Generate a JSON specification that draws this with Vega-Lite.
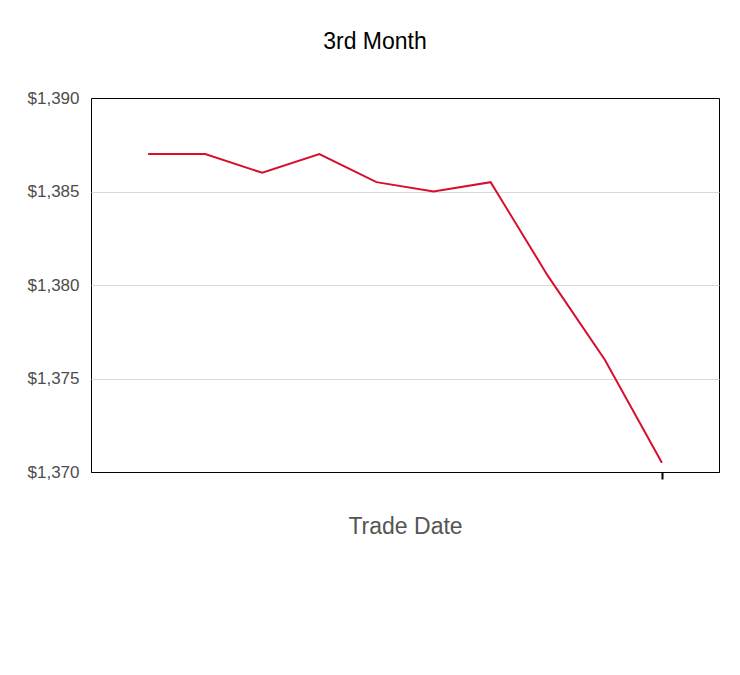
{
  "$schema": "https://vega.github.io/schema/vega-lite/v6.json",
  "autosize": "none",
  "width": 628,
  "height": 374,
  "padding": {"left": 91, "top": 98, "right": 21, "bottom": 203},
  "background": "white",
  "title": {
    "text": "3rd Month",
    "font": "Liberation Sans",
    "fontSize": 23,
    "fontWeight": "normal",
    "color": "#000000",
    "anchor": "middle",
    "dx": -30,
    "offset": 35
  },
  "data": {
    "values": [
      {"date": "2024-01-02", "price": 1387},
      {"date": "2024-01-03", "price": 1387},
      {"date": "2024-01-04", "price": 1386},
      {"date": "2024-01-05", "price": 1387},
      {"date": "2024-01-08", "price": 1385.5},
      {"date": "2024-01-09", "price": 1385},
      {"date": "2024-01-10", "price": 1385.5},
      {"date": "2024-01-11", "price": 1380.5},
      {"date": "2024-01-12", "price": 1376},
      {"date": "2024-01-16", "price": 1370.5}
    ]
  },
  "mark": {"type": "line", "color": "#d6102c", "strokeWidth": 2},
  "encoding": {
    "x": {
      "field": "date",
      "type": "ordinal",
      "scale": {"type": "point", "padding": 1},
      "axis": {
        "title": "Trade Date",
        "titleFont": "Liberation Sans",
        "titleFontSize": 23,
        "titleFontWeight": "normal",
        "titleColor": "#555555",
        "titlePadding": 35,
        "labels": false,
        "values": ["2024-01-16"],
        "ticks": true,
        "tickSize": 7,
        "tickWidth": 2,
        "tickColor": "#000000",
        "domain": true,
        "domainColor": "#000000",
        "grid": false
      }
    },
    "y": {
      "field": "price",
      "type": "quantitative",
      "scale": {"domain": [1370, 1390], "nice": false, "zero": false},
      "axis": {
        "title": null,
        "values": [1370, 1375, 1380, 1385, 1390],
        "format": "$,.0f",
        "labelFont": "Liberation Sans",
        "labelFontSize": 17,
        "labelColor": "#4d4d4d",
        "labelPadding": 12,
        "ticks": false,
        "domain": false,
        "grid": true,
        "gridColor": "#d9d9d9",
        "gridWidth": 1,
        "gridOpacity": {
          "condition": {"test": "datum.value === 1370 || datum.value === 1390", "value": 0},
          "value": 1
        }
      }
    }
  },
  "config": {
    "view": {"stroke": "#000000", "strokeWidth": 1}
  }
}
